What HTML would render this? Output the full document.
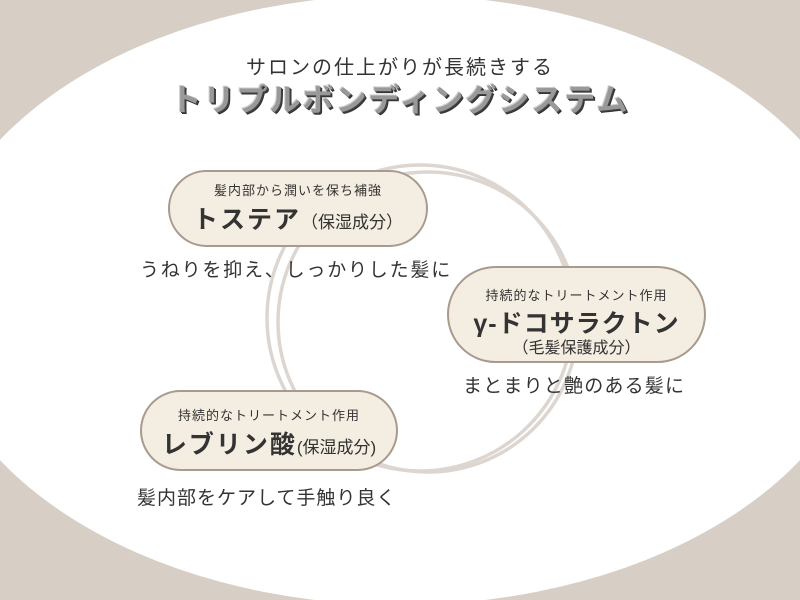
<!DOCTYPE html>
<html><head><meta charset="utf-8"><style>
body{margin:0;width:800px;height:600px;overflow:hidden;background:#d7cec5;font-family:"Liberation Sans","Noto Sans CJK JP",sans-serif;color:#333;position:relative}
.t{position:absolute;white-space:nowrap;text-align:center}
.pill{position:absolute;background:#f4ede1;border:2px solid #a89a8c;border-radius:50px;box-sizing:border-box}
</style></head><body>
<svg width="800" height="600" style="position:absolute;left:0;top:0">
<ellipse cx="400" cy="300" rx="470" ry="305" fill="#fff"/>
<circle cx="420" cy="318" r="153" fill="none" stroke="#ddd6d0" stroke-width="3.5"/>
<circle cx="428" cy="322" r="150" fill="none" stroke="#ddd6d0" stroke-width="3.5"/>
</svg>
<div class="t" style="left:0;width:800px;top:51px;font-size:20px;letter-spacing:2px;color:#333">サロンの仕上がりが長続きする</div>
<div class="t" style="left:0;width:800px;top:75px;font-size:31px;font-weight:bold;letter-spacing:2px;color:#999;text-shadow:1px 1px 0 #444,2px 2px 0 #333,-1px -1px 0 #ccc">トリプルボンディングシステム</div>
<div class="pill" style="left:168px;top:170px;width:260px;height:77px"></div>
<div class="t" style="left:168px;width:260px;top:180px;font-size:13px;letter-spacing:1px">髪内部から潤いを保ち補強</div>
<div class="t" style="left:168px;width:260px;top:200px;font-size:25px;font-weight:bold;letter-spacing:2px">トステア<span style="font-size:17px;font-weight:normal;letter-spacing:0">（保湿成分）</span></div>
<div class="t" style="left:140px;top:255px;font-size:19px;letter-spacing:1.8px">うねりを抑え、しっかりした髪に</div>
<div class="pill" style="left:447px;top:266px;width:259px;height:97px"></div>
<div class="t" style="left:447px;width:259px;top:285px;font-size:13px;letter-spacing:1px">持続的なトリートメント作用</div>
<div class="t" style="left:447px;width:259px;top:304px;font-size:25px;font-weight:bold;letter-spacing:1px">γ-ドコサラクトン</div>
<div class="t" style="left:447px;width:259px;top:334px;font-size:16px;letter-spacing:0">（毛髪保護成分）</div>
<div class="t" style="left:463px;top:371px;font-size:19px;letter-spacing:1.2px">まとまりと艶のある髪に</div>
<div class="pill" style="left:140px;top:390px;width:258px;height:81px"></div>
<div class="t" style="left:140px;width:258px;top:405px;font-size:13px;letter-spacing:1px">持続的なトリートメント作用</div>
<div class="t" style="left:140px;width:258px;top:425px;font-size:25px;font-weight:bold;letter-spacing:2px">レブリン酸<span style="font-size:17px;font-weight:normal;letter-spacing:0">(保湿成分)</span></div>
<div class="t" style="left:137px;top:483px;font-size:19px;letter-spacing:1px">髪内部をケアして手触り良く</div>
</body></html>
